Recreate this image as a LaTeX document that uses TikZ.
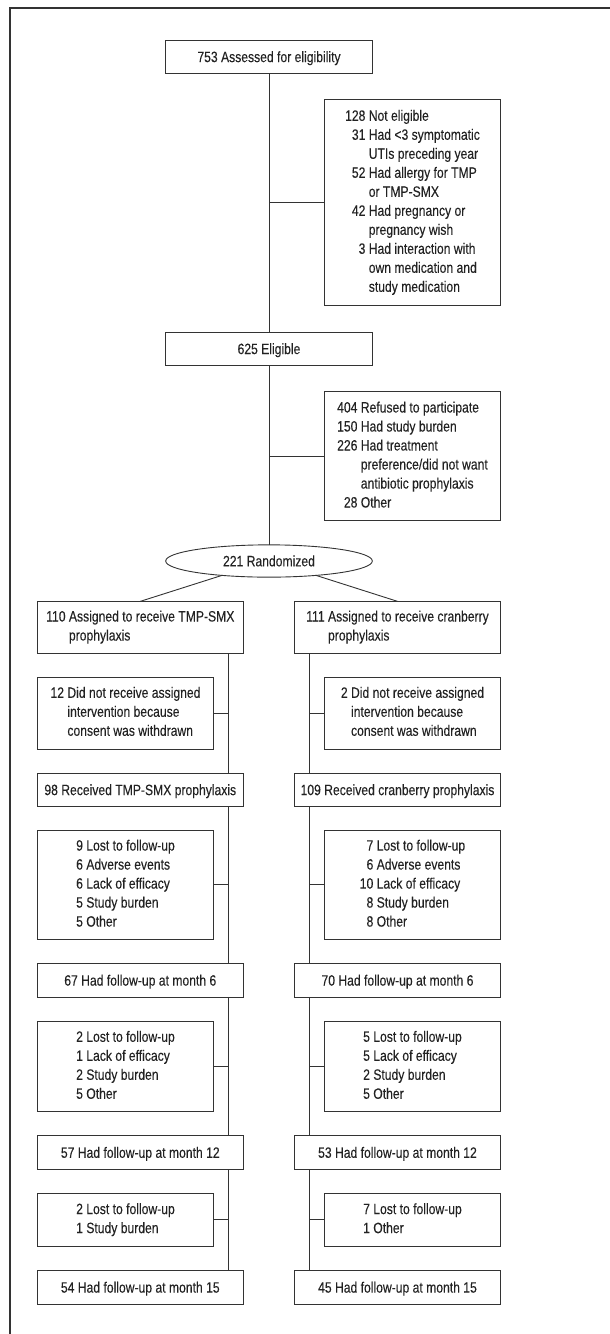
\documentclass[tikz,border=0pt]{standalone}
\usepackage{fontspec}
\setmainfont{Liberation Sans}[FakeStretch=0.81,FakeBold=0.15]
\usetikzlibrary{shapes.geometric}
\definecolor{lc}{HTML}{333333}
\definecolor{tc}{HTML}{222222}
\newcommand{\fs}{\fontsize{15}{19}\selectfont}
\newcommand{\tb}[1]{\begin{tabular}{@{}r@{\ }l@{}}#1\end{tabular}}
\begin{document}
\begin{tikzpicture}[x=1pt,y=-1pt,
  box/.style={draw=lc, line width=0.9pt, rectangle, inner sep=0pt, outer sep=0pt, text=tc, font=\fs},
  one/.style={box, text height=10.6pt, text depth=0pt},
  wide/.style={minimum width=206pt},
  narrow/.style={minimum width=176.4pt},
  ctr/.style={minimum width=206.6pt},
  ln/.style={draw=lc, line width=0.9pt},
  frame/.style={draw=lc, line width=1.2pt}]
\useasboundingbox (0,0) rectangle (610,1334);
\draw[frame] (610,8) -- (10,8) -- (10,1334);

% central column
\node[one, ctr, minimum height=33pt] (a) at (269,56.8) {753 Assessed for eligibility};
\node[box, narrow, minimum height=206.4pt] (ne) at (412.5,202.5) {\tb{128 & Not eligible\\ 31 & Had <3 symptomatic\\ & UTIs preceding year\\ 52 & Had allergy for TMP\\ & or TMP-SMX\\ 42 & Had pregnancy or\\ & pregnancy wish\\ 3 & Had interaction with\\ & own medication and\\ & study medication}};
\node[one, ctr, minimum height=33pt] (e) at (269,348.8) {625 Eligible};
\node[box, narrow, minimum height=129pt] (rf) at (412.5,456.2) {\tb{404 & Refused to participate\\ 150 & Had study burden\\ 226 & Had treatment\\ & preference/did not want\\ & antibiotic prophylaxis\\ 28 & Other}};
\node[ellipse, draw=lc, line width=0.9pt, inner sep=0pt, outer sep=0pt, minimum width=206.6pt, minimum height=32.3pt, text=tc, font=\fs, text height=10.6pt, text depth=0pt] (r) at (269,561) {221 Randomized};

% left column
\node[box, wide, minimum height=51.7pt] (la) at (140.3,627.2) {\tb{110 & Assigned to receive TMP-SMX\\ & prophylaxis}};
\node[box, narrow, minimum height=72pt] (lx1) at (125.5,713) {\tb{12 & Did not receive assigned\\ & intervention because\\ & consent was withdrawn}};
\node[one, wide, minimum height=33pt] (lr) at (140.3,789.8) {98 Received TMP-SMX prophylaxis};
\node[box, narrow, minimum height=109pt] (lx2) at (125.5,884.8) {\tb{9 & Lost to follow-up\\ 6 & Adverse events\\ 6 & Lack of efficacy\\ 5 & Study burden\\ 5 & Other}};
\node[one, wide, minimum height=33.3pt] (l6) at (140.3,980.3) {67 Had follow-up at month 6};
\node[box, narrow, minimum height=90.4pt] (lx3) at (125.5,1066.5) {\tb{2 & Lost to follow-up\\ 1 & Lack of efficacy\\ 2 & Study burden\\ 5 & Other}};
\node[one, wide, minimum height=33.6pt] (l12) at (140.3,1152.5) {57 Had follow-up at month 12};
\node[box, narrow, minimum height=53pt] (lx4) at (125.5,1219.8) {\tb{2 & Lost to follow-up\\ 1 & Study burden}};
\node[one, wide, minimum height=33.3pt] (l15) at (140.3,1287.3) {54 Had follow-up at month 15};

% right column
\node[box, wide, minimum width=206.4pt, minimum height=51.7pt] (ra) at (397.5,627.2) {\tb{111 & Assigned to receive cranberry\\ & prophylaxis}};
\node[box, narrow, minimum height=72pt] (rx1) at (412.5,713) {\tb{2 & Did not receive assigned\\ & intervention because\\ & consent was withdrawn}};
\node[one, wide, minimum width=206.4pt, minimum height=33pt] (rr) at (397.5,789.8) {109 Received cranberry prophylaxis};
\node[box, narrow, minimum height=109pt] (rx2) at (412.5,884.8) {\tb{7 & Lost to follow-up\\ 6 & Adverse events\\ 10 & Lack of efficacy\\ 8 & Study burden\\ 8 & Other}};
\node[one, wide, minimum width=206.4pt, minimum height=33.3pt] (r6) at (397.5,980.3) {70 Had follow-up at month 6};
\node[box, narrow, minimum height=90.4pt] (rx3) at (412.5,1066.5) {\tb{5 & Lost to follow-up\\ 5 & Lack of efficacy\\ 2 & Study burden\\ 5 & Other}};
\node[one, wide, minimum width=206.4pt, minimum height=33.6pt] (r12) at (397.5,1152.5) {53 Had follow-up at month 12};
\node[box, narrow, minimum height=53pt] (rx4) at (412.5,1219.8) {\tb{7 & Lost to follow-up\\ 1 & Other}};
\node[one, wide, minimum width=206.4pt, minimum height=33.3pt] (r15) at (397.5,1287.3) {45 Had follow-up at month 15};

\coordinate (LT) at (228.7,0);
\coordinate (RT) at (309.7,0);

% central connectors
\draw[ln] (a) -- (e);
\draw[ln] (e) -- (r);
\draw[ln] (ne.west -| a.south) -- (ne.west);
\draw[ln] (rf.west -| e.south) -- (rf.west);
\draw[ln] (r.197) -- (la.north);
\draw[ln] (r.343) -- (ra.north);

% left trunk
\draw[ln] (la.south -| LT) -- (lr.north -| LT);
\draw[ln] (lr.south -| LT) -- (l6.north -| LT);
\draw[ln] (l6.south -| LT) -- (l12.north -| LT);
\draw[ln] (l12.south -| LT) -- (l15.north -| LT);
\draw[ln] (lx1.east) -- (lx1.east -| LT);
\draw[ln] (lx2.east) -- (lx2.east -| LT);
\draw[ln] (lx3.east) -- (lx3.east -| LT);
\draw[ln] (lx4.east) -- (lx4.east -| LT);

% right trunk
\draw[ln] (ra.south -| RT) -- (rr.north -| RT);
\draw[ln] (rr.south -| RT) -- (r6.north -| RT);
\draw[ln] (r6.south -| RT) -- (r12.north -| RT);
\draw[ln] (r12.south -| RT) -- (r15.north -| RT);
\draw[ln] (rx1.west) -- (rx1.west -| RT);
\draw[ln] (rx2.west) -- (rx2.west -| RT);
\draw[ln] (rx3.west) -- (rx3.west -| RT);
\draw[ln] (rx4.west) -- (rx4.west -| RT);
\end{tikzpicture}
\end{document}
